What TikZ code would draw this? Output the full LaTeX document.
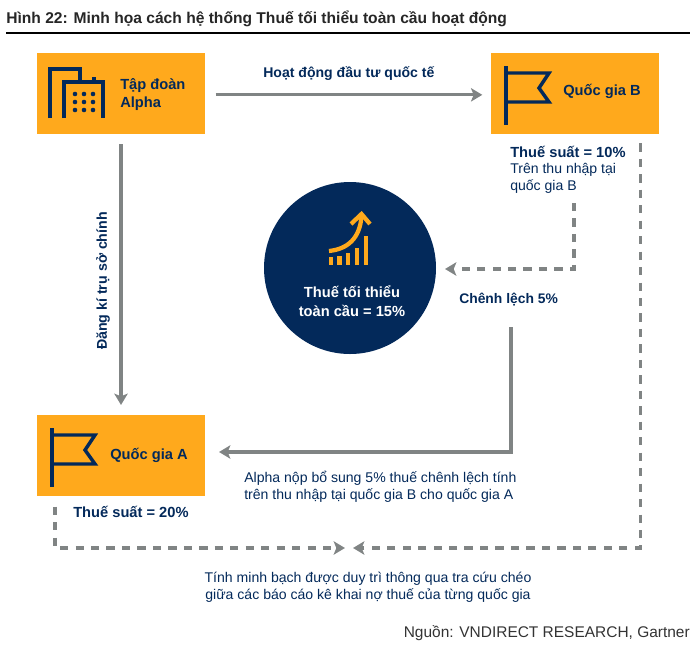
\documentclass[tikz,border=0pt]{standalone}
\usepackage{fontspec}
\setmainfont{Liberation Sans}
\usetikzlibrary{positioning,arrows.meta,calc}
\definecolor{navy}{HTML}{03295A}
\definecolor{amber}{HTML}{FFA91C}
\definecolor{arrowgray}{HTML}{808484}

\begin{document}
\begin{tikzpicture}[x=0.75pt,y=0.75pt]
\tikzset{
    box/.style={rectangle, fill=amber, minimum width=126pt, minimum height=60.75pt, outer sep=0pt, inner sep=0pt},
    boxlabel/.style={anchor=west, align=left, text=navy, font=\fontsize{11}{13.2}\selectfont\bfseries, inner sep=0pt},
    note/.style={anchor=west, align=left, text=navy, font=\fontsize{10.55}{12.75}\selectfont, inner sep=0pt},
    notebold/.style={anchor=west, text=navy, font=\fontsize{11}{12.75}\selectfont\bfseries, inner sep=0pt},
    flow/.style={draw=arrowgray, line width=2.3pt, -{Stealth[length=8.5pt,width=10pt,inset=2pt]}},
    flowdash/.style={flow, dash pattern=on 6.2pt off 5.4pt},
    flagicon/.pic={
        \draw[navy, line width=2.8pt] (15,-13) -- (15,-72);
        \draw[navy, line width=2.6pt, line join=miter] (15,-20) -- (58,-20) -- (48,-35) -- (58,-49) -- (15,-49);
    }
}
\useasboundingbox (0,0) rectangle (697,-644);

\node[anchor=west, inner sep=0pt, text=black!85, font=\fontsize{11.7}{13}\selectfont\bfseries] (title) at (6,-19) {Hình 22: Minh họa cách hệ thống Thuế tối thiểu toàn cầu hoạt động};
\draw[black, line width=1.5pt] (6,-32.5) -- (690,-32.5);

\node[box] (alpha) at (121,-93.5) {};
\node[box, right=214.5pt of alpha] (quocgiaB) {};
\node[box, below=210.75pt of alpha] (quocgiaA) {};
\node[circle, fill=navy, minimum size=129pt, inner sep=0pt, outer sep=0pt] (toancau) at (350,-268) {};

% icons
\draw[navy, line width=2.8pt] (50,-118) -- (50,-69) -- (80,-69) -- (80,-82);
\draw[navy, line width=2.8pt] (64,-118) -- (64,-82) -- (103,-82) -- (103,-118);
\fill[navy] (91.5,-82) rectangle (96,-77);
\foreach \dotx in {75,84,93}
    \foreach \doty in {-94,-102,-110}
        \fill[navy] (\dotx,\doty) circle (2.3);
\path (quocgiaB.north west) pic {flagicon};
\path (quocgiaA.north west) pic {flagicon};
\foreach \barx/\bartop in {331/-257,339.5/-256,348/-253,357/-248,366/-236}
    \fill[amber] (\barx-2.2,-265) rectangle (\barx+2.2,\bartop);
\draw[amber, line width=3.2pt] (329,-251) .. controls (348,-249) and (360,-238) .. (361.5,-216);
\draw[amber, line width=3.2pt, line join=miter] (351,-224) -- (361.5,-214) -- (370,-224);

% labels
\node[boxlabel] (alphalabel) at (120,-94.5) {Tập đoàn\\Alpha};
\node[boxlabel] (labelB) at (563,-91) {Quốc gia B};
\node[boxlabel] (labelA) at (110,-455) {Quốc gia A};
\node[align=center, text=white, inner sep=0pt, font=\fontsize{11}{14}\selectfont\bfseries] (toancaulabel) at (352,-301) {Thuế tối thiểu\\toàn cầu = 15\%};
\node[notebold, font=\fontsize{10.55}{12.75}\selectfont\bfseries] (dautu) at (263,-73.5) {Hoạt động đầu tư quốc tế};
\node[notebold] (suatB) at (510,-152) {Thuế suất = 10\%};
\node[note] (thunhapB) at (510,-178.5) {Trên thu nhập tại\\quốc gia B};
\node[notebold, font=\fontsize{10.4}{12.75}\selectfont\bfseries] (chenhlech) at (459,-300) {Chênh lệch 5\%};
\node[notebold] (suatA) at (73,-511.5) {Thuế suất = 20\%};
\node[note] (nopbosung) at (244,-487) {Alpha nộp bổ sung 5\% thuế chênh lệch tính\\trên thu nhập tại quốc gia B cho quốc gia A};
\node[note, anchor=center, align=center] (minhbach) at (368,-587) {Tính minh bạch được duy trì thông qua tra cứu chéo\\giữa các báo cáo kê khai nợ thuế của từng quốc gia};
\node[notebold, rotate=90, anchor=center, font=\fontsize{10.65}{11}\selectfont\bfseries] (truso) at (103,-281) {Đăng kí trụ sở chính};
\node[anchor=east, inner sep=0pt, text=black!80, font=\fontsize{11.6}{13}\selectfont] (nguon) at (690,-633) {Nguồn: VNDIRECT RESEARCH, Gartner};

% connectors
\coordinate (hopnhat) at (349,-548);
\coordinate (dauB) at (574,-203);
\coordinate (cuoiB) at (445,-269);
\coordinate (dauA) at (511,-327);
\coordinate (cuoiA) at (219,-452);
\draw[flow, shorten <=8pt, shorten >=6.5pt] ([yshift=-1pt]alpha.east) -- ([yshift=-1pt]quocgiaB.west);
\draw[flow, shorten <=7.5pt, shorten >=7.5pt] (alpha.south) -- (quocgiaA.north);
\draw[flowdash] (dauB) |- (cuoiB);
\draw[flow] (dauA) |- (cuoiA);
\draw[flowdash] ([xshift=-14pt,yshift=-7pt]quocgiaB.south east) |- ([xshift=3pt]hopnhat);
\draw[flowdash] ([xshift=-49.5pt,yshift=-8pt]quocgiaA.south) |- ([xshift=-3pt]hopnhat);
\end{tikzpicture}
\end{document}
